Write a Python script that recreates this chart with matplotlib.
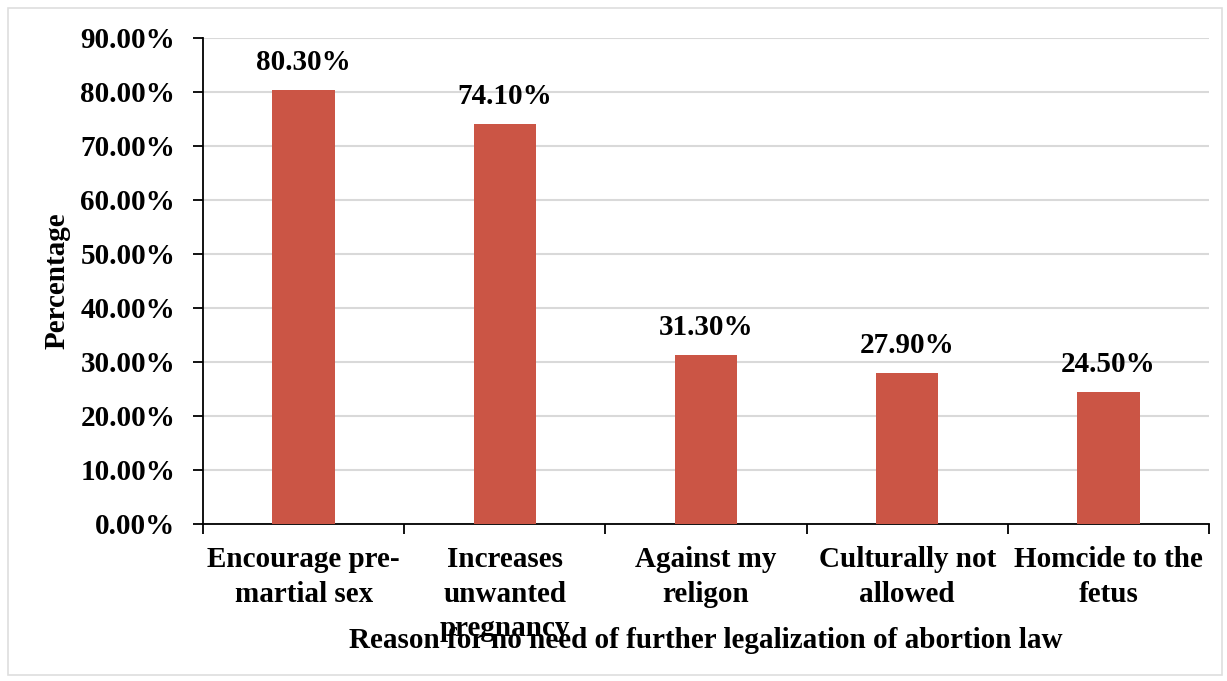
import matplotlib
matplotlib.use("Agg")
import matplotlib.pyplot as plt
from matplotlib.patches import Rectangle

# data
reasons = ["Encourage pre-\nmartial sex", "Increases\nunwanted\npregnancy",
           "Against my\nreligon", "Culturally not\nallowed", "Homcide to the\nfetus"]
percent = [80.3, 74.1, 31.3, 27.9, 24.5]
yticks = [0, 10, 20, 30, 40, 50, 60, 70, 80, 90]

plt.rcParams['font.family'] = ['Liberation Serif', 'DejaVu Serif']
plt.rcParams['font.weight'] = 'bold'
FS = 21

fig = plt.figure(figsize=(12.27, 6.81), dpi=100)
fig.patches.append(Rectangle((8 / 1227, 6 / 681), 1214 / 1227, 667 / 681,
                             transform=fig.transFigure, fill=False,
                             edgecolor='#dedede', linewidth=1.2))
ax = fig.add_axes([203 / 1227, 1 - 524 / 681, 1006 / 1227, 486 / 681])

x = list(range(len(reasons)))
ax.bar(x, percent, width=0.31, color='#CB5545', zorder=3)
for xi, v in zip(x, percent):
    ax.annotate(f"{v:.2f}%", (xi, v), xytext=(0, 10), textcoords='offset points',
                ha='center', va='bottom', fontsize=FS, fontweight='bold')

ax.set_xlim(-0.5, len(reasons) - 0.5)
ax.set_ylim(0, 90)
ax.set_yticks(yticks)
ax.set_yticklabels([f"{t:.2f}%" for t in yticks])
ax.yaxis.grid(True, color='#d9d9d9', linewidth=1.5, zorder=0)
ax.set_axisbelow(True)

ax.set_xticks([i - 0.5 for i in range(len(reasons) + 1)])
ax.set_xticklabels([])
ax.set_xticks(x, minor=True)
ax.set_xticklabels(reasons, minor=True, fontsize=FS, fontweight='bold', linespacing=1.35)
ax.tick_params(axis='x', which='minor', length=0, pad=16)
ax.tick_params(axis='x', which='major', length=7, width=1.3, direction='out')
ax.tick_params(axis='y', length=7, width=1.3, direction='out', pad=13, labelsize=FS)

for s in ['top', 'right']:
    ax.spines[s].set_visible(False)
for s in ['left', 'bottom']:
    ax.spines[s].set_linewidth(1.3)

ax.set_xlabel("Reason for no need of further legalization of abortion law",
              fontsize=FS, fontweight='bold', labelpad=0)
ax.xaxis.set_label_coords(0.5, -0.212)
ax.set_ylabel("Percentage", fontsize=FS, fontweight='bold')
ax.yaxis.set_label_coords(-0.132, 0.5)

fig.savefig("out.png", dpi=100)
